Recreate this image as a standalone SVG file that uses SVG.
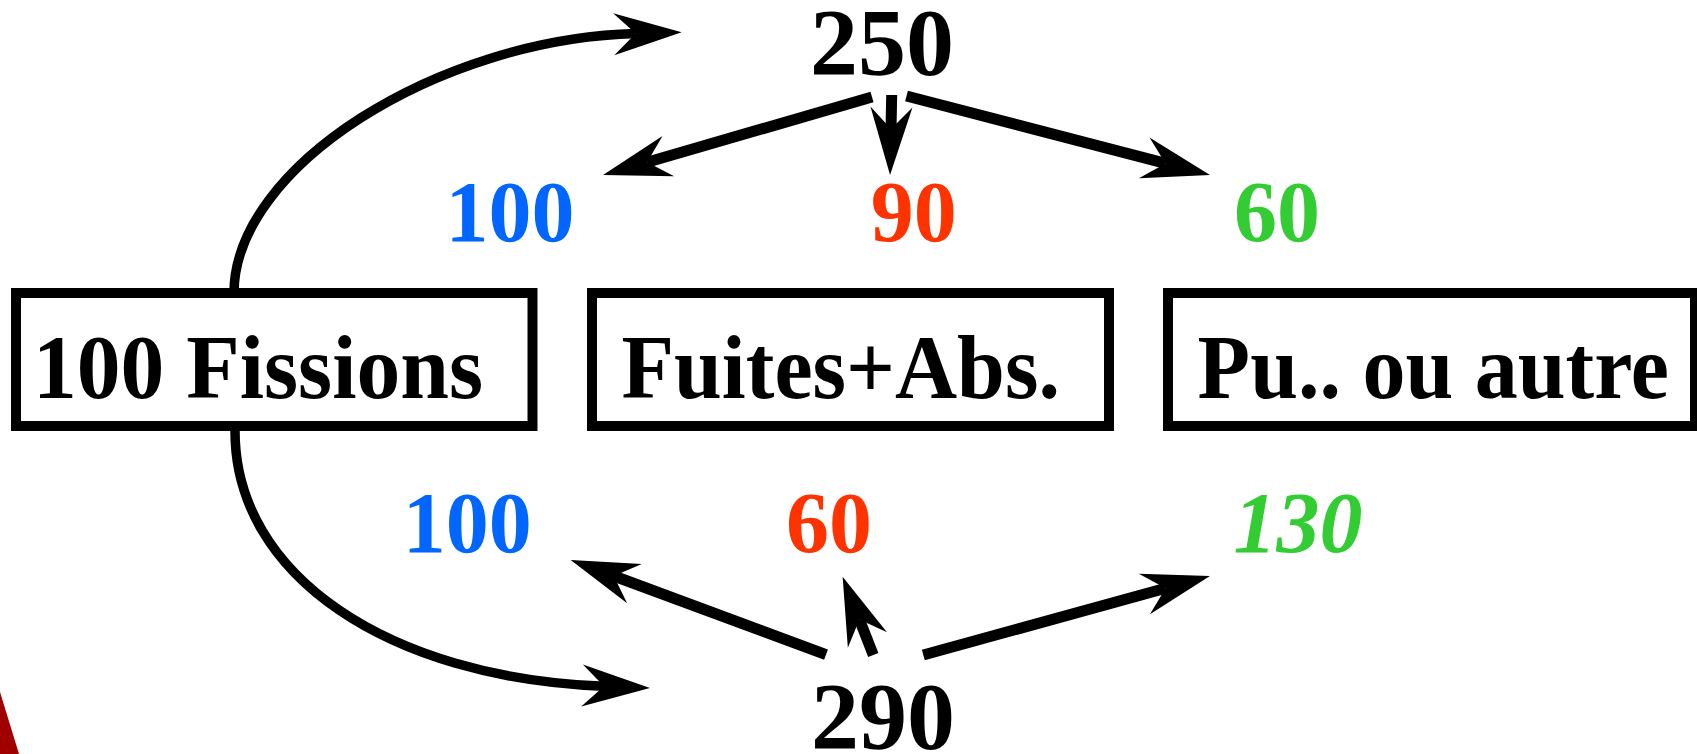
<svg xmlns="http://www.w3.org/2000/svg" width="1697" height="754" viewBox="0 0 1697 754">
<style>
.box{fill:#fff;stroke:#000;stroke-width:10}
.lbl{font-family:"Liberation Serif","Times New Roman",serif;font-weight:bold;font-size:86px;fill:#000}
.num{font-family:"Liberation Serif","Times New Roman",serif;font-weight:bold;font-size:86px;text-anchor:middle}
.big{font-size:96px;fill:#000}
.blue{fill:#0066FF}
.red{fill:#FF3300}
.green{fill:#33CC33}
.arc{fill:none;stroke:#000;stroke-width:9.5;marker-end:url(#ah)}
.ln{fill:none;stroke:#000;stroke-width:11;marker-end:url(#ah)}
</style>
<defs>
<marker id="ah" viewBox="-30 -30 80 60" markerWidth="80" markerHeight="60" refX="0" refY="0" markerUnits="userSpaceOnUse" orient="auto">
<path d="M46,0 L-22,-21 L0,0 L-22,21 Z" fill="#000"/>
</marker>
</defs>
<rect width="1697" height="754" fill="#fff"/>
<polygon points="0,692 19,754 0,754" fill="#A00000"/>
<g id="connectors">
<path class="arc" d="M234,293 C234,167 437.7,39 635.7,33.6"/>
<path class="arc" d="M235,431 C235,576 389,678 604,686.3"/>
<path class="ln" d="M872,97 L647.2,162.2"/>
<path class="ln" d="M891.7,95 L891,129"/>
<path class="ln" d="M906.5,96 L1165.5,163.4"/>
<path class="ln" d="M826,654.7 L613.8,576"/>
<path class="ln" d="M873.3,655 L859.4,619.5"/>
<path class="ln" d="M923.3,655 L1165.6,588.2"/>
</g>
<g id="node-fissions">
<rect class="box" x="16" y="293" width="516.5" height="133"/>
<text class="lbl" transform="translate(33,398.3) scale(1,1.06)" textLength="450" lengthAdjust="spacingAndGlyphs">100 Fissions</text>
</g>
<g id="node-fuites">
<rect class="box" x="592" y="293" width="517" height="133"/>
<text class="lbl" transform="translate(621.5,398.3) scale(1,1.06)">Fuites+Abs.</text>
</g>
<g id="node-pu">
<rect class="box" x="1168" y="293" width="527" height="133"/>
<text class="lbl" transform="translate(1197.6,398.3) scale(1,1.06)">Pu.. ou autre</text>
</g>
<g id="node-250"><text class="num big" x="882" y="75">250</text></g>
<g id="node-290"><text class="num big" x="883" y="749">290</text></g>
<g id="node-top-100"><text class="num blue" x="510" y="240.7">100</text></g>
<g id="node-top-90"><text class="num red" x="913.7" y="240.7">90</text></g>
<g id="node-top-60"><text class="num green" x="1277" y="240.7">60</text></g>
<g id="node-bot-100"><text class="num blue" x="467.3" y="551.7">100</text></g>
<g id="node-bot-60"><text class="num red" x="829" y="551.7">60</text></g>
<g id="node-bot-130"><text class="num green" x="1298" y="551.7" font-style="italic">130</text></g>
</svg>
